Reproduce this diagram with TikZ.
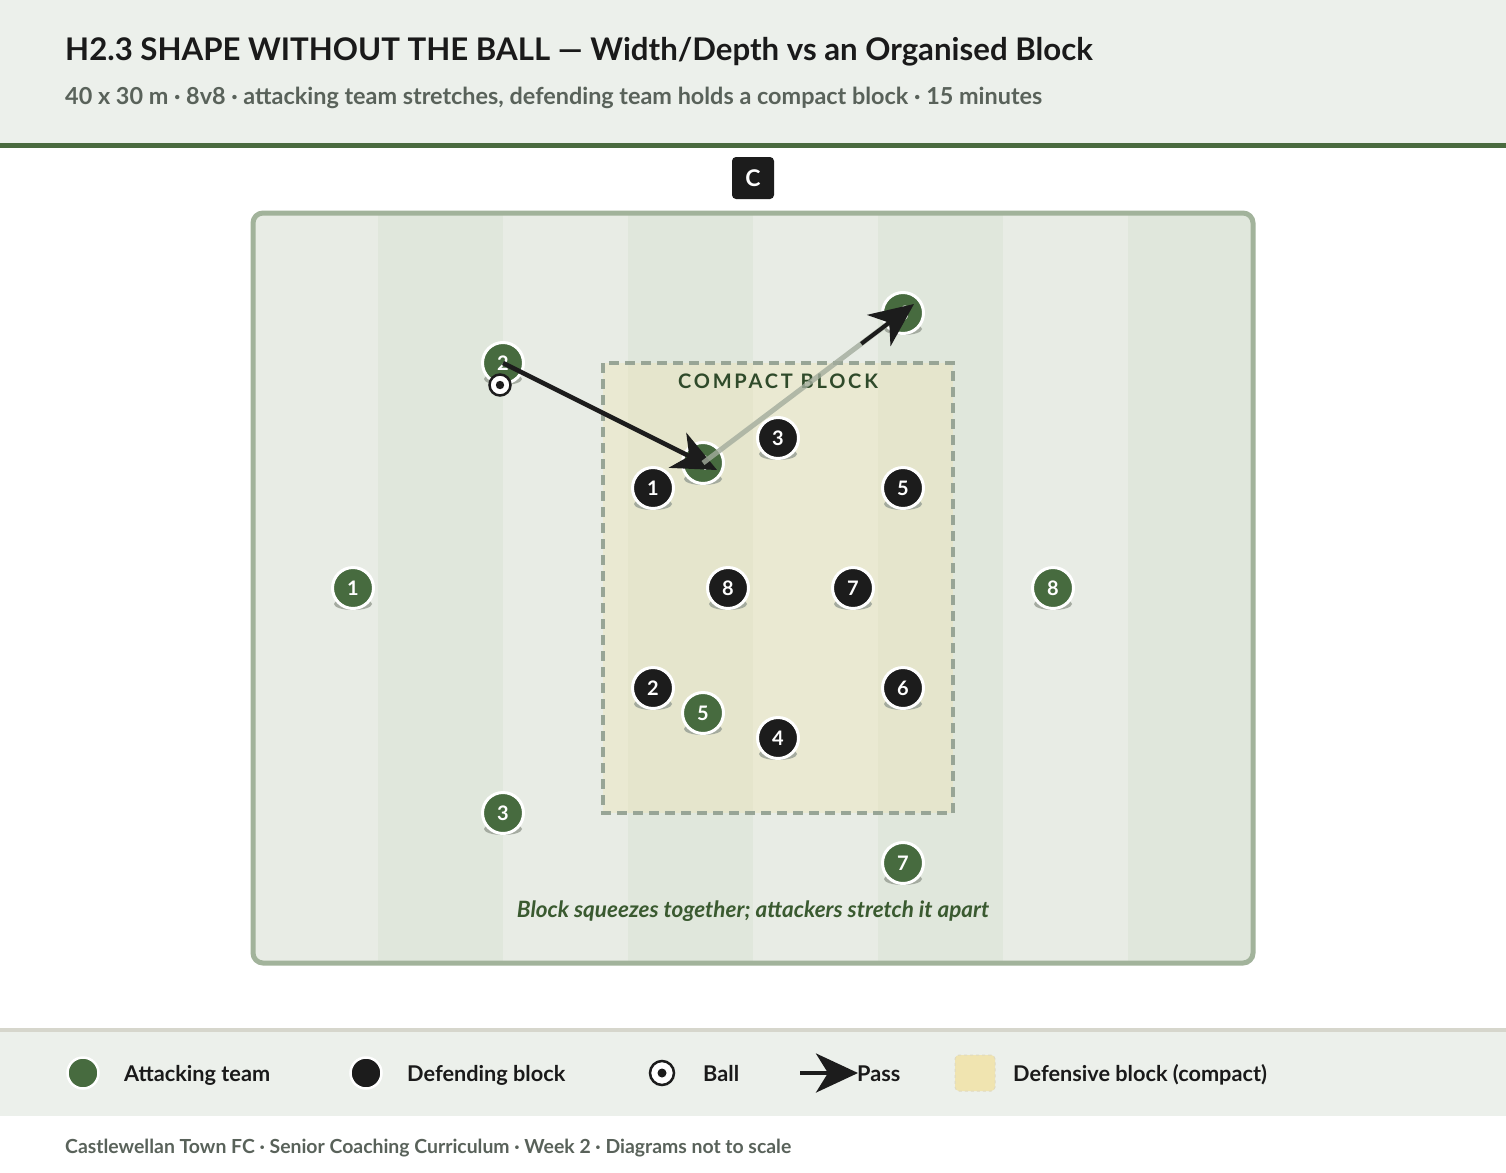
\documentclass[tikz,border=0pt]{standalone}
\usepackage{fontspec}
\setmainfont{Lato}
\usetikzlibrary{arrows.meta,calc}
\definecolor{hdr}{HTML}{ECF0EB}
\definecolor{hdrline}{HTML}{4A6B3F}
\definecolor{subgrey}{HTML}{59625A}
\definecolor{titleblack}{HTML}{1A1A1A}
\definecolor{stripeA}{HTML}{E8ECE5}
\definecolor{stripeB}{HTML}{E0E7DC}
\definecolor{pitchline}{HTML}{A2B39B}
\definecolor{blockyellow}{HTML}{F0E4B0}
\definecolor{blockdash}{HTML}{98A596}
\definecolor{darkgreen}{HTML}{2F4A2A}
\definecolor{capgreen}{HTML}{3A5A30}
\definecolor{attgreen}{HTML}{476B3F}
\definecolor{defblack}{HTML}{1C1C1C}
\definecolor{shadowc}{HTML}{9EA59A}
\definecolor{passgrey}{HTML}{A3AC9D}
\definecolor{legline}{HTML}{D6D6CC}
\tikzset{
  att/.style={circle, fill=attgreen, draw=white, line width=3pt, minimum size=41pt, inner sep=0pt,
    text=white, font=\bfseries\fontsize{20}{20}\selectfont},
  def/.style={att, fill=defblack},
  shadowfill/.style={fill=shadowc, fill opacity=0.9},
  passarrow/.style={line width=4.5pt, draw=defblack, -{Stealth[length=44pt, width=39pt, inset=13pt]}},
  passgreyline/.style={line width=5pt, draw=passgrey, draw opacity=0.8},
  tiponly/.style={line width=4pt, draw=defblack, -{Stealth[length=44pt, width=39pt, inset=13pt]}},
  legtext/.style={anchor=base west, text=titleblack, font=\bfseries\fontsize{21.7}{21.7}\selectfont, inner sep=0pt},
}
\begin{document}
\begin{tikzpicture}[x=1pt, y=-1pt]
\useasboundingbox (0,0) rectangle (1506,1172);
\fill[white] (0,0) rectangle (1506,1172);
% header
\fill[hdr] (0,0) rectangle (1506,143);
\fill[hdrline] (0,143) rectangle (1506,148);
\node[anchor=base west, text=titleblack, font=\bfseries\fontsize{31.2}{31.2}\selectfont, inner sep=0pt] (title) at (65,60)
  {H2.3 SHAPE WITHOUT THE BALL — Width/Depth vs an Organised Block};
\node[anchor=base west, text=subgrey, font=\bfseries\fontsize{23.4}{23.4}\selectfont, inner sep=0pt] (subtitle) at (65,104)
  {40 x 30 m · 8v8 · attacking team stretches, defending team holds a compact block · 15 minutes};
% coach marker
\node[fill=defblack, rounded corners=4pt, minimum size=42pt, inner sep=0pt, text=white,
  font=\bfseries\fontsize{23}{23}\selectfont] (coach) at (753,178) {C};
% pitch
\begin{scope}
  \clip[rounded corners=10pt] (253,213) rectangle (1253,963);
  \foreach \i in {0,...,7} {
    \pgfmathsetmacro{\xa}{253+125*\i}
    \ifodd\i
      \fill[stripeB] (\xa,213) rectangle ++(125,750);
    \else
      \fill[stripeA] (\xa,213) rectangle ++(125,750);
    \fi
  }
\end{scope}
\draw[pitchline, line width=5pt, rounded corners=10pt] (253,213) rectangle (1253,963);
% compact block
\fill[blockyellow, fill opacity=0.35] (603,363) rectangle (953,813);
\draw[blockdash, line width=3.5pt, dash pattern=on 10pt off 6pt] (603,363) rectangle (953,813);
\node[anchor=base, text=darkgreen, font=\bfseries\fontsize{20}{20}\selectfont\addfontfeatures{LetterSpace=14}, inner sep=0pt]
  (blocklabel) at (778,388) {COMPACT BLOCK};
% players
\foreach \n/\x/\y/\l in {a1/353/588/1, a2/503/363/2, a3/503/813/3, a4/703/463/4, a5/703/713/5, a6/903/313/6, a7/903/863/7, a8/1053/588/8} {
  \fill[shadowfill] (\x,\y+16) ellipse (19 and 6);
  \node[att] (\n) at (\x,\y) {\l};
}
\foreach \n/\x/\y/\l in {d1/653/488/1, d2/653/688/2, d3/778/438/3, d4/778/738/4, d5/903/488/5, d6/903/688/6, d7/853/588/7, d8/728/588/8} {
  \fill[shadowfill] (\x,\y+16) ellipse (19 and 6);
  \node[def] (\n) at (\x,\y) {\l};
}
% ball
\node[circle, fill=white, draw=defblack, line width=2.5pt, minimum size=21pt, inner sep=0pt] (ball) at (500,385) {};
\fill[defblack] (ball.center) circle (4.2);
% passes
\coordinate (tipA) at (717,470);
\coordinate (tipB) at (914,304);
\draw[passarrow] (a2.center) -- (tipA);
\draw[passgreyline] (a4.center) -- ($(a4.center)!0.88!(tipB)$);
\draw[tiponly] ($(a4.center)!0.75!(tipB)$) -- (tipB);
% caption
\node[anchor=base, text=capgreen, font=\bfseries\itshape\fontsize{22.5}{22.5}\selectfont, inner sep=0pt] (caption) at (753,917)
  {Block squeezes together; attackers stretch it apart};
% legend band
\fill[hdr] (0,1028) rectangle (1506,1116);
\fill[legline] (0,1028) rectangle (1506,1032);
\node[att, minimum size=31pt, line width=2.5pt] (legatt) at (83,1073) {};
\node[legtext] (legatttext) at (124,1081) {Attacking team};
\node[def, minimum size=31pt, line width=2.5pt] (legdef) at (366,1073) {};
\node[legtext] (legdeftext) at (407,1081) {Defending block};
\node[circle, fill=white, draw=defblack, line width=2.5pt, minimum size=24pt, inner sep=0pt] (legball) at (662,1073) {};
\fill[defblack] (legball.center) circle (4.5);
\node[legtext] (legballtext) at (703,1081) {Ball};
\coordinate (legpassA) at (800,1073);
\coordinate (legpassB) at (858,1073);
\draw[line width=4pt, draw=defblack, -{Stealth[length=42pt, width=39pt, inset=12pt]}] (legpassA) -- (legpassB);
\node[legtext] (legpasstext) at (857,1081) {Pass};
\node[fill=blockyellow, draw=blockyellow!85!black!60, line width=1pt, dashed, rounded corners=4pt,
  minimum width=40pt, minimum height=36pt, inner sep=0pt] (legblock) at (975,1073) {};
\node[legtext] (legblocktext) at (1013,1081) {Defensive block (compact)};
% footer
\node[anchor=base west, text=subgrey, font=\bfseries\fontsize{19.4}{19.4}\selectfont, inner sep=0pt] (footer) at (65,1153)
  {Castlewellan Town FC · Senior Coaching Curriculum · Week 2 · Diagrams not to scale};
\end{tikzpicture}
\end{document}
